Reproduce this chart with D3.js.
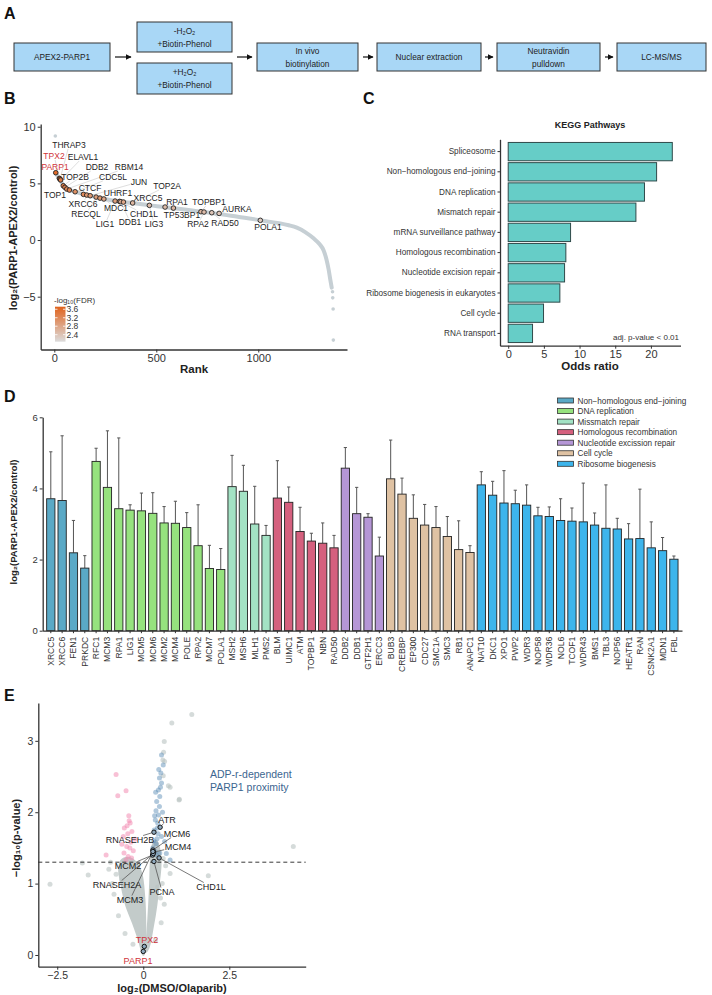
<!DOCTYPE html>
<html><head><meta charset="utf-8">
<script src="https://cdn.jsdelivr.net/npm/d3@7"></script>
<style>body{margin:0;background:#fff}svg{font-family:"Liberation Sans",Arial,Helvetica,sans-serif}</style>
</head><body><svg id="c" width="712" height="995"></svg>
<script>
// ---------------- DATA ----------------
// Panel A workflow steps
const stepsA = [["APEX2-PARP1"], ["-H₂O₂","+Biotin-Phenol"], ["+H₂O₂","+Biotin-Phenol"], ["In vivo","biotinylation"], ["Nuclear extraction"], ["Neutravidin","pulldown"], ["LC-MS/MS"]];

// Panel B: rank curve (all proteins, read as a band) and highlighted proteins
const curveRank  = [8, 20, 35, 50, 70, 100, 150, 200, 250, 300, 350, 400, 466, 543, 600, 700, 800, 900, 1000, 1050, 1108, 1150, 1189, 1230, 1271, 1300, 1320, 1335, 1345, 1352, 1360];
const curveValue = [5.95, 5.5, 5.1, 4.72, 4.45, 4.27, 4.02, 3.82, 3.62, 3.45, 3.33, 3.22, 3.06, 2.92, 2.78, 2.55, 2.32, 2.05, 1.78, 1.62, 1.47, 1.3, 1.09, 0.7, 0.15, -0.35, -0.9, -1.76, -2.6, -3.38, -4.2];
const extraRank  = [5, 1364, 1365, 1367, 1368];
const extraValue = [9.18, -4.56, -5.1, -6.09, -8.83];
const hlGeneB  = ["PARP1","TPX2","THRAP3","ELAVL1","TOP2B","DDB2","RBM14","TOP1","CDC5L","CTCF","XRCC6","JUN","RECQL","UHRF1","MDC1","LIG1","CHD1L","DDB1","XRCC5","TOP2A","LIG3","TP53BP1","RPA1","TOPBP1","RPA2","RAD50","AURKA","POLA1"];
const hlRankB  = [7, 25, 28, 31, 44, 52, 61, 74, 102, 143, 159, 176, 205, 224, 243, 298, 320, 326, 339, 384, 466, 543, 584, 719, 734, 772, 808, 1010];
const hlValueB = [5.94, 5.44, 5.38, 5.30, 4.79, 4.65, 4.50, 4.41, 4.26, 4.03, 3.97, 3.91, 3.79, 3.70, 3.62, 3.44, 3.41, 3.38, 3.35, 3.27, 3.06, 2.91, 2.82, 2.50, 2.47, 2.41, 2.35, 1.74];
const hlFdrB   = [3.6, 3.5, 3.5, 3.4, 3.4, 3.3, 3.2, 3.3, 3.1, 3.2, 3.0, 3.0, 2.9, 3.0, 2.8, 2.9, 2.8, 2.7, 2.8, 2.6, 2.5, 2.5, 2.6, 2.6, 2.5, 2.4, 2.4, 2.3];
const redGenesB = ["PARP1","TPX2"];
const fdrTicks = [2.4, 2.8, 3.2, 3.6];
const rankTicks = [0, 500, 1000];
const log2TicksB = [-5, 0, 5, 10];

// Panel C: KEGG pathways
const keggNames = ["Spliceosome","Non\u2212homologous end\u2212joining","DNA replication","Mismatch repair","mRNA surveillance pathway","Homologous recombination","Nucleotide excision repair","Ribosome biogenesis in eukaryotes","Cell cycle","RNA transport"];
const keggOdds  = [23.0, 20.8, 19.1, 17.9, 8.74, 8.08, 7.9, 7.24, 4.95, 3.41];
const oddsTicks = [0, 5, 10, 15, 20];

// Panel D: pathway genes
const groupNames = ["Non\u2212homologous end\u2212joining","DNA replication","Missmatch repair","Homologous recombination","Nucleotide excission repair","Cell cycle","Ribosome biogenesis"];
const groupColors = ["#5AA9C6","#96E27E","#A3E2C4","#D5607E","#B596D6","#DFC2A3","#3DB5EC"];
const genesD  = ["XRCC5","XRCC6","FEN1","PRKDC","RFC1","MCM3","RPA1","LIG1","MCM5","MCM6","MCM2","MCM4","POLE","RPA2","MCM7","POLA1","MSH2","MSH6","MLH1","PMS2","BLM","UIMC1","ATM","TOPBP1","NBN","RAD50","DDB2","DDB1","GTF2H1","ERCC3","BUB3","CREBBP","EP300","CDC27","SMC1A","SMC3","RB1","ANAPC1","NAT10","DKC1","XPO1","PWP2","WDR3","NOP58","WDR36","NOL6","TCOF1","WDR43","BMS1","TBL3","NOP56","HEATR1","RAN","CSNK2A1","MDN1","FBL"];
const groupD  = [0,0,0,0, 1,1,1,1,1,1,1,1,1,1,1,1, 2,2,2,2, 3,3,3,3,3,3, 4,4,4,4, 5,5,5,5,5,5,5,5, 6,6,6,6,6,6,6,6,6,6,6,6,6,6,6,6,6,6];
const meanD   = [3.71,3.66,2.19,1.76, 4.76,4.03,3.43,3.39,3.37,3.30,3.03,3.02,2.90,2.39,1.75,1.72, 4.05,3.92,3.00,2.68, 3.73,3.61,2.79,2.52,2.46,2.33, 4.57,3.29,3.19,2.10, 4.27,3.84,3.16,2.97,2.90,2.65,2.28,2.20, 4.10,3.81,3.59,3.57,3.53,3.23,3.21,3.10,3.08,3.06,2.97,2.88,2.86,2.58,2.59,2.33,2.25,2.01];
const errTopD = [5.03,5.48,3.10,2.11, 5.13,5.62,5.42,3.54,3.87,3.88,3.49,3.64,3.32,3.54,2.40,2.31, 4.93,4.65,4.06,2.96, 4.78,4.04,3.47,2.74,3.03,2.68, 5.15,4.03,3.29,2.63, 5.36,4.29,3.82,3.55,3.49,3.21,3.09,2.39, 4.47,4.20,4.50,3.95,4.10,3.47,3.48,3.71,3.45,4.15,3.31,4.10,3.16,3.01,3.98,3.06,2.62,2.10];
const log2TicksD = [0, 2, 4, 6];

// Panel E: volcano
const grayX = [1.41,0.83,0.61,0.59,0.57,0.78,1.05,4.36,-2.71,-1.77,-1.60,-0.79,1.89,0.61,0.78,-0.53,0.62,0.73,0.58,1.04,-0.90,-0.85,0.55,0.50,0.65,-1.00,0.35,-0.30,-0.72,0.52,-0.95,-0.62,0.58,0.42];
const grayY = [3.37,3.25,2.99,2.84,2.73,2.35,2.18,1.52,0.99,1.29,1.12,1.13,1.11,0.71,1.14,0.30,2.71,2.37,2.51,2.17,1.00,0.85,1.00,0.80,1.25,1.20,0.20,0.15,0.55,0.45,1.30,1.05,1.35,0.95];
const pinkX = [-0.79,-0.50,-0.74,-0.41,-0.38,-0.47,-0.55,-0.33,-0.58,-0.48,-0.39,-0.56,-0.44,-0.29,-1.08,-0.24,-0.34,-0.45,-0.62,-0.36,-0.50,-0.42];
const pinkY = [2.53,2.30,2.23,1.88,1.85,1.81,1.78,1.73,1.66,1.52,1.50,1.43,1.38,1.46,1.40,1.62,1.36,1.70,1.55,1.58,1.33,1.95];
const blueX = [0.53,0.58,0.51,0.47,0.53,0.44,0.48,0.39,0.47,0.37,0.44,0.35,0.42,0.53,0.62,0.40,0.37,0.48,0.35,0.67,0.78,0.32,0.30,0.41,0.45,0.36,0.50,0.33,0.28,0.56,0.43,0.38];
const blueY = [2.80,2.66,2.55,2.48,2.41,2.31,2.22,2.15,2.08,2.02,1.96,1.89,1.85,1.66,1.59,1.63,1.56,1.43,1.45,1.42,1.33,1.75,1.60,1.78,2.60,2.28,2.35,1.95,1.50,2.00,1.70,1.40];
// dense grey cloud outlines (read as envelopes)
const cloudLeftX  = [0.0,-0.12,-0.30,-0.50,-0.62,-0.70,-0.64,-0.42,-0.22,-0.06,0.03,0.06,0.06];
const cloudLeftY  = [0.0, 0.20, 0.45, 0.70, 0.95, 1.20, 1.32, 1.36, 1.30, 1.15,0.80,0.40,0.10];
const cloudRightX = [0.08,0.12,0.17,0.20,0.22,0.28,0.38,0.48,0.50,0.45,0.38,0.28,0.15];
const cloudRightY = [0.05,0.30,0.70,1.00,1.30,1.55,1.60,1.45,1.25,1.00,0.70,0.40,0.10];
const hlGeneE = ["ATR","RNASEH2B","MCM6","MCM4","MCM2","CHD1L","RNASEH2A","PCNA","MCM3","TPX2","PARP1"];
const hlXE    = [0.49,0.31,0.28,0.30,0.27,0.46,0.29,0.31,0.28,0.03,0.00];
const hlYE    = [1.79,1.72,1.47,1.44,1.40,1.36,1.42,1.31,1.45,0.12,0.05];
const pThresh = 1.3;
const fcTicks = [-2.5, 0, 2.5];
const pTicks = [0, 1, 2, 3];

// ---------------- DRAW ----------------
const svg = d3.select("#c");
const AX = "#333";

function styleAxis(g, fs){
  g.select(".domain").attr("stroke", AX).attr("stroke-width", 1.3);
  g.selectAll(".tick line").attr("stroke", AX);
  g.selectAll(".tick text").attr("fill", "#333").attr("font-size", fs).attr("font-family", '"Liberation Sans",Arial,sans-serif');
}
function leader(g, textSel, px, py, color, width){
  const b = textSel.node().getBBox();
  const cx = b.x + b.width/2, cy = b.y + b.height/2;
  const dx = px - cx, dy = py - cy;
  const hw = b.width/2 + 0.5, hh = b.height/2 - 1;
  let t = Math.min(dx !== 0 ? hw/Math.abs(dx) : Infinity, dy !== 0 ? hh/Math.abs(dy) : Infinity);
  if (t >= 1) return;
  const sx = cx + dx*t, sy = cy + dy*t;
  const len = Math.hypot(px - sx, py - sy);
  if (len < 4) return;
  const k = (len - 2.6)/len;
  g.insert("line", ":first-child").attr("x1", sx).attr("y1", sy).attr("x2", sx + (px-sx)*k).attr("y2", sy + (py-sy)*k)
    .attr("stroke", color).attr("stroke-width", width);
}

// panel letters
[["A",4,19],["B",4,104],["C",363,104],["D",4,402],["E",4,701]].forEach(d=>{
  svg.append("text").attr("x", d[1]).attr("y", d[2]).attr("font-size", 16).attr("font-weight", "bold").attr("fill","#111").text(d[0]);
});

// ---- Panel A ----
const gA = svg.append("g");
const boxA = [[14,110,43,71],[137,232,22,52],[137,232,63,94],[257,358,43,71],[377,481,43,71],[497,600,43,71],[617,706,43,71]];
svg.append("defs").append("marker").attr("id","arr").attr("viewBox","0 0 10 10").attr("refX",9).attr("refY",5)
  .attr("markerWidth",5).attr("markerHeight",5).attr("orient","auto")
  .append("path").attr("d","M0,0 L10,5 L0,10 z").attr("fill","#111");
stepsA.forEach((lines,i)=>{
  const b = boxA[i];
  gA.append("rect").attr("x",b[0]).attr("y",b[2]).attr("width",b[1]-b[0]).attr("height",b[3]-b[2])
    .attr("fill","#A9D7F6").attr("stroke","#333").attr("stroke-width",1);
  const cy = (b[2]+b[3])/2, n = lines.length;
  lines.forEach((s,j)=>{
    gA.append("text").attr("x",(b[0]+b[1])/2).attr("y", cy + (j-(n-1)/2)*13 + 3)
      .attr("text-anchor","middle").attr("font-size",8.3).attr("fill","#222").text(s);
  });
});
[[115,131],[237,252],[363,373],[485,493],[605,613]].forEach(a=>{
  gA.append("line").attr("x1",a[0]).attr("x2",a[1]).attr("y1",57).attr("y2",57).attr("stroke","#111").attr("stroke-width",1.2).attr("marker-end","url(#arr)");
});

// ---- Panel B ----
const gB = svg.append("g");
const xB = d3.scaleLinear().domain([-66.7, 1435]).range([40.7, 347]);
const yB = d3.scaleLinear().domain([-9.66, 10.24]).range([349.5, 124]);
const axBx = gB.append("g").attr("transform","translate(0,349.5)").call(d3.axisBottom(xB).tickValues(rankTicks).tickFormat(d3.format("d")).tickSize(3).tickSizeOuter(0).tickPadding(2));
styleAxis(axBx, 11);
const axBy = gB.append("g").attr("transform","translate(40.7,0)").call(d3.axisLeft(yB).tickValues(log2TicksB).tickFormat(d=>String(d).replace("-","\u2212")).tickSize(3).tickSizeOuter(0).tickPadding(2));
styleAxis(axBy, 11);
gB.append("text").attr("x",194).attr("y",373).attr("text-anchor","middle").attr("font-size",11.5).attr("font-weight","bold").attr("fill","#222").text("Rank");
gB.append("text").attr("transform","translate(17,238) rotate(-90)").attr("text-anchor","middle").attr("font-size",11).attr("font-weight","bold").attr("fill","#222").text("log₂(PARP1-APEX2/control)");
const curveData = curveRank.map((r,i)=>[r, curveValue[i]]);
gB.append("path").attr("d", d3.line().x(d=>xB(d[0])).y(d=>yB(d[1])).curve(d3.curveMonotoneX)(curveData))
  .attr("fill","none").attr("stroke","#C6CFD4").attr("stroke-width",4).attr("stroke-linecap","round").attr("stroke-linejoin","round");
extraRank.forEach((r,i)=>{
  gB.append("circle").attr("cx",xB(r)).attr("cy",yB(extraValue[i])).attr("r",1.8).attr("fill","#C6CFD4");
});
const fdrColor = d3.scaleLinear().domain([2.07, 3.72]).range(["#DCDCDC","#E0621C"]);
const labPosB = [[55,167],[54,156],[69,145],[83,157],[75,177],[97,167],[129,167],[55,195],[113,177],[90,188],[83,204],[139,182],[86,214],[118,193],[116,208],[105,224],[144,214],[130,222],[148,198],[167,186],[154,224],[182,215],[177,202],[209,202],[198,224],[225,223],[237,209],[268,227]];
const gBL = gB.append("g"), gBP = gB.append("g");
hlGeneB.forEach((gname,i)=>{
  const px = xB(hlRankB[i]), py = yB(hlValueB[i]);
  gBP.append("circle").attr("cx",px).attr("cy",py).attr("r",2.3).attr("fill",fdrColor(hlFdrB[i])).attr("stroke","#222").attr("stroke-width",0.9);
  const t = gBL.append("text").attr("x",labPosB[i][0]).attr("y",labPosB[i][1]+3).attr("text-anchor","middle").attr("font-size",8.5)
    .attr("fill", redGenesB.includes(gname) ? "#D0343A" : "#222").text(gname);
  leader(gBL, t, px, py, "#C8C8C8", 0.6);
});
// FDR legend
const grad = svg.select("defs").append("linearGradient").attr("id","fdrg").attr("x1",0).attr("y1",1).attr("x2",0).attr("y2",0);
grad.append("stop").attr("offset","0%").attr("stop-color",fdrColor(2.07));
grad.append("stop").attr("offset","100%").attr("stop-color",fdrColor(3.72));
const yF = d3.scaleLinear().domain([2.07,3.72]).range([341.7,306.7]);
gB.append("rect").attr("x",55).attr("y",306.7).attr("width",10.5).attr("height",35).attr("fill","url(#fdrg)");
fdrTicks.forEach(v=>{
  gB.append("line").attr("x1",55).attr("x2",57.5).attr("y1",yF(v)).attr("y2",yF(v)).attr("stroke","#fff").attr("stroke-width",0.8);
  gB.append("line").attr("x1",63).attr("x2",65.5).attr("y1",yF(v)).attr("y2",yF(v)).attr("stroke","#fff").attr("stroke-width",0.8);
  gB.append("text").attr("x",66.5).attr("y",yF(v)+3).attr("font-size",8.5).attr("fill","#333").text(v.toFixed(1));
});
gB.append("text").attr("x",54).attr("y",303).attr("font-size",8).attr("fill","#333").text("-log₁₀(FDR)");

// ---- Panel C ----
const gC = svg.append("g");
const xC = d3.scaleLinear().domain([-1.15, 24.15]).range([500, 680.5]);
const yC = d3.scaleBand().domain(keggNames).range([139.3, 345.7]).paddingInner(0.094).paddingOuter(0.156);
gC.selectAll("rect").data(keggNames).join("rect")
  .attr("x", xC(0)).attr("y", d=>yC(d)).attr("width", (d,i)=>xC(keggOdds[i])-xC(0)).attr("height", yC.bandwidth())
  .attr("fill","#66CDC7").attr("stroke","#2F4A4A").attr("stroke-width",1);
const axCx = gC.append("g").attr("transform","translate(0,345.7)").call(d3.axisBottom(xC).tickValues(oddsTicks).tickSize(3).tickSizeOuter(0).tickPadding(1.5));
styleAxis(axCx, 11);
const axCy = gC.append("g").attr("transform","translate(500,0)").call(d3.axisLeft(yC).tickSize(2.5).tickSizeOuter(0).tickPadding(2));
styleAxis(axCy, 8.2);
gC.append("text").attr("x",590).attr("y",128).attr("text-anchor","middle").attr("font-size",9).attr("font-weight","bold").attr("fill","#222").text("KEGG Pathways");
gC.append("text").attr("x",590).attr("y",370).attr("text-anchor","middle").attr("font-size",11.5).attr("font-weight","bold").attr("fill","#222").text("Odds ratio");
gC.append("text").attr("x",679).attr("y",340).attr("text-anchor","end").attr("font-size",8).attr("fill","#333").text("adj. p-value < 0.01");

// ---- Panel D ----
const gD = svg.append("g");
const xD = d3.scaleBand().domain(genesD).range([42.7, 682]).paddingInner(0.27).paddingOuter(0.35);
const yD = d3.scaleLinear().domain([0, 6]).range([630.7, 417.3]);
const bw = xD.bandwidth();
genesD.forEach((g,i)=>{
  const cx = xD(g) + bw/2;
  gD.append("line").attr("x1",cx).attr("x2",cx).attr("y1",yD(meanD[i])).attr("y2",yD(errTopD[i])).attr("stroke","#555").attr("stroke-width",1);
  gD.append("line").attr("x1",cx-1.6).attr("x2",cx+1.6).attr("y1",yD(errTopD[i])).attr("y2",yD(errTopD[i])).attr("stroke","#555").attr("stroke-width",1);
});
gD.selectAll("rect.bar").data(genesD).join("rect").attr("class","bar")
  .attr("x", d=>xD(d)).attr("width", bw).attr("y", (d,i)=>yD(meanD[i])).attr("height",(d,i)=>yD(0)-yD(meanD[i]))
  .attr("fill",(d,i)=>groupColors[groupD[i]]).attr("stroke","#222").attr("stroke-width",0.9);
const axDx = gD.append("g").attr("transform","translate(0,630.7)").call(d3.axisBottom(xD).tickSize(2.5).tickSizeOuter(0).tickPadding(2));
styleAxis(axDx, 8.6);
axDx.selectAll(".tick text").attr("transform","rotate(-90)").attr("text-anchor","end").attr("dx",0).attr("dy","0.35em").attr("y",0).attr("x",-6);
const axDy = gD.append("g").attr("transform","translate(42.7,0)").call(d3.axisLeft(yD).tickValues(log2TicksD).tickFormat(d3.format("d")).tickSize(3).tickSizeOuter(0).tickPadding(2));
styleAxis(axDy, 9.5);
gD.append("text").attr("transform","translate(17,522) rotate(-90)").attr("text-anchor","middle").attr("font-size",9.5).attr("font-weight","bold").attr("fill","#222").text("log₂(PARP1-APEX2/control)");
groupNames.forEach((n,i)=>{
  const y = 400.6 + i*10.55;
  gD.append("rect").attr("x",557.5).attr("y",y-2.6).attr("width",16).attr("height",5).attr("fill",groupColors[i]).attr("stroke","#333").attr("stroke-width",0.8);
  gD.append("text").attr("x",577.5).attr("y",y+2.9).attr("font-size",8.2).attr("fill","#333").text(n);
});

// ---- Panel E ----
const gE = svg.append("g");
const xE = d3.scaleLinear().domain([-3.05, 4.72]).range([38.3, 305.7]);
const yE = d3.scaleLinear().domain([-0.164, 3.53]).range([966.7, 703]);
const axEx = gE.append("g").attr("transform","translate(0,966.7)").call(d3.axisBottom(xE).tickValues(fcTicks).tickFormat(d=>d===0?"0":d3.format(".1f")(d).replace("-","\u2212")).tickSize(3).tickSizeOuter(0).tickPadding(2));
styleAxis(axEx, 10.5);
const axEy = gE.append("g").attr("transform","translate(38.3,0)").call(d3.axisLeft(yE).tickValues(pTicks).tickFormat(d3.format("d")).tickSize(3).tickSizeOuter(0).tickPadding(2));
styleAxis(axEy, 10.5);
const cloud = d3.line().x(d=>xE(d[0])).y(d=>yE(d[1])).curve(d3.curveCatmullRomClosed);
gE.append("path").attr("d", cloud(cloudLeftX.map((x,i)=>[x,cloudLeftY[i]]))).attr("fill","#C3CBCA").attr("stroke","#C3CBCA").attr("stroke-width",2);
gE.append("path").attr("d", cloud(cloudRightX.map((x,i)=>[x,cloudRightY[i]]))).attr("fill","#C3CBCA").attr("stroke","#C3CBCA").attr("stroke-width",2);
grayX.forEach((x,i)=>gE.append("circle").attr("cx",xE(x)).attr("cy",yE(grayY[i])).attr("r",2.5).attr("fill","#B9C3C2").attr("opacity",0.6));
pinkX.forEach((x,i)=>gE.append("circle").attr("cx",xE(x)).attr("cy",yE(pinkY[i])).attr("r",2.5).attr("fill","#F28DB2").attr("opacity",0.55));
blueX.forEach((x,i)=>gE.append("circle").attr("cx",xE(x)).attr("cy",yE(blueY[i])).attr("r",2.5).attr("fill","#4F86B2").attr("opacity",0.45));
gE.append("line").attr("x1",38.3).attr("x2",305.7).attr("y1",yE(pThresh)).attr("y2",yE(pThresh)).attr("stroke","#222").attr("stroke-width",0.9).attr("stroke-dasharray","4,3");
const labPosE = [[167,819],[130,839],[177,833],[178,846],[128,865],[211,886],[117,884],[162,891],[130,899],[147,939],[138,960]];
const gEL = gE.append("g"), gEP = gE.append("g");
hlGeneE.forEach((gname,i)=>{
  const px = xE(hlXE[i]), py = yE(hlYE[i]);
  gEP.append("circle").attr("cx",px).attr("cy",py).attr("r",2.2).attr("fill","#8FA9BD").attr("stroke","#111").attr("stroke-width",1);
  const red = gname==="TPX2"||gname==="PARP1";
  const t = gEL.append("text").attr("x",labPosE[i][0]).attr("y",labPosE[i][1]+3.5).attr("text-anchor","middle").attr("font-size",9)
    .attr("fill", red ? "#D0343A" : "#222").text(gname);
  if(!red) leader(gEL, t, px, py, "#555", 0.8);
});
gE.append("text").attr("x",210).attr("y",778).attr("font-size",10.5).attr("fill","#3C6690").text("ADP-r-dependent");
gE.append("text").attr("x",210).attr("y",791).attr("font-size",10.5).attr("fill","#3C6690").text("PARP1 proximity");
gE.append("text").attr("x",172).attr("y",992).attr("text-anchor","middle").attr("font-size",11).attr("font-weight","bold").attr("fill","#222").text("log₂(DMSO/Olaparib)");
gE.append("text").attr("transform","translate(20,838) rotate(-90)").attr("text-anchor","middle").attr("font-size",11).attr("font-weight","bold").attr("fill","#222").text("\u2212log₁₀(p-value)");
</script></body></html>
